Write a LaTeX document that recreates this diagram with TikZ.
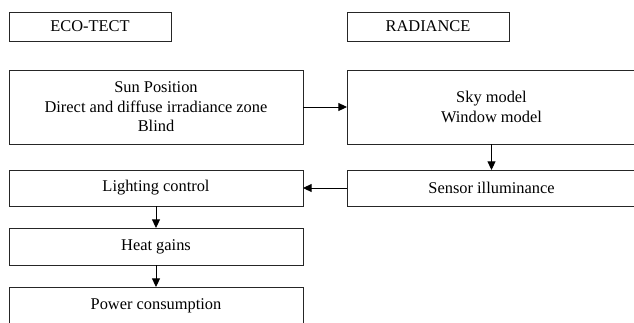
\documentclass[tikz,border=0pt]{standalone}
\usepackage{fontspec}
\setmainfont{Liberation Serif}
\usetikzlibrary{arrows.meta}

\begin{document}
\begin{tikzpicture}[x=0.75pt, y=-0.75pt,
  stage/.style={draw=black!85, line width=0.7pt, inner sep=0pt, outer sep=0pt,
                align=center, font=\fontsize{12.3}{14.6}\selectfont},
  flow/.style={-{Triangle[length=6.5pt, width=6pt]}, line width=0.7pt, draw=black}
]
\useasboundingbox (0,0) rectangle (634,322);
\node[stage, minimum width=121.5pt, minimum height=21.75pt] (eco) at (90,26.5) {ECO-TECT};
\node[stage, minimum width=121.5pt, minimum height=21.75pt] (rad) at (428,26.5) {RADIANCE};
\node[stage, minimum width=220.5pt, minimum height=55.5pt] (sun) at (156,107)
  {Sun Position\\Direct and diffuse irradiance zone\\Blind};
\node[stage, minimum width=216.75pt, minimum height=55.5pt] (sky) at (491.5,107)
  {Sky model\\Window model};
\node[stage, minimum width=216.75pt, minimum height=27pt] (sensor) at (491.5,188)
  {Sensor illuminance};
\node[stage, minimum width=220.5pt, minimum height=27pt] (light) at (156,188)
  {Lighting control};
\node[stage, minimum width=220.5pt, minimum height=27.75pt] (heat) at (156,246.5)
  {Heat gains};
\node[stage, minimum width=220.5pt, minimum height=28.5pt] (power) at (156,306)
  {Power consumption};
\draw[flow] (sun) -- (sky);
\draw[flow] (sky) -- (sensor);
\draw[flow] (sensor) -- (light);
\draw[flow] (light) -- (heat);
\draw[flow] (heat) -- (power);
\end{tikzpicture}
\end{document}
